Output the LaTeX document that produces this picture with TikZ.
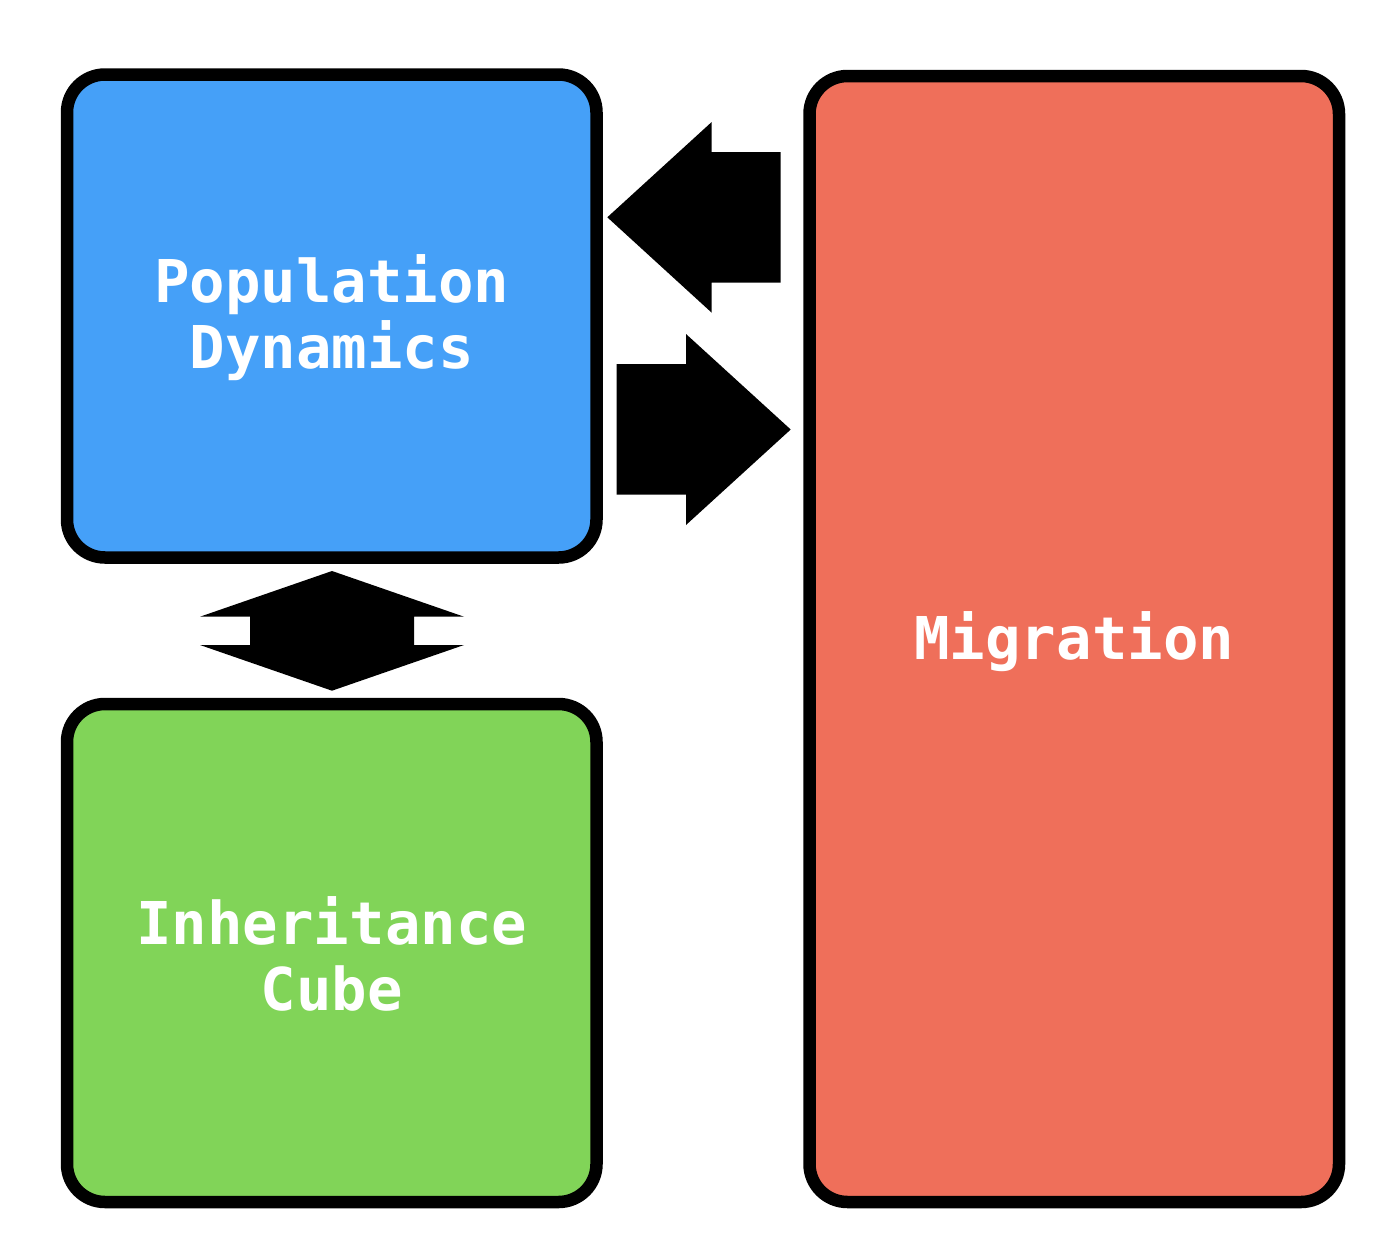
\documentclass[tikz,border=0pt]{standalone}
\usepackage{fontspec}
\newfontfamily\boxfont{DejaVu Sans Mono}
\definecolor{popblue}{HTML}{45A0F8}
\definecolor{migred}{HTML}{EF6F5A}
\definecolor{inhgreen}{HTML}{81D458}
\tikzset{
  panel/.style={draw=black, line width=12.5pt, rounded corners=38pt, inner sep=0pt},
  paneltext/.style={text=white, align=center, inner sep=0pt,
    font=\boxfont\bfseries\fontsize{59}{66}\selectfont},
  blockarrow/.style={fill=black, draw=none}
}
\begin{document}
\begin{tikzpicture}[x=1pt,y=-1pt]
\useasboundingbox (0,0) rectangle (1386,1258);
\node[panel, fill=popblue, minimum width=529.5pt, minimum height=483pt] (pop) at (331.75,316) {};
\node[panel, fill=inhgreen, minimum width=529.5pt, minimum height=498pt] (inh) at (331.75,953) {};
\node[panel, fill=migred, minimum width=529.5pt, minimum height=1126pt] (mig) at (1074.25,639) {};
\node[paneltext] (popt) at ([yshift=-2pt]pop.center) {Population\\Dynamics};
\node[paneltext] (inht) at ([yshift=-1pt]inh.center) {Inheritance\\Cube};
\node[paneltext] (migt) at ([yshift=-3pt]mig.center) {Migration};
% Migration -> Population
\fill[blockarrow] (607.3,217.3) -- (711.7,122) -- (711.7,152) -- (780.7,152) -- (780.7,282.7) -- (711.7,282.7) -- (711.7,312.7) -- cycle;
% Population -> Migration
\fill[blockarrow] (790.7,429.5) -- (686,334) -- (686,364) -- (616.7,364) -- (616.7,494.7) -- (686,494.7) -- (686,525) -- cycle;
% Population <-> Inheritance
\fill[blockarrow] (332,571) -- (464,616.7) -- (414,616.7) -- (414,645) -- (464,645) -- (332,690.7) -- (200,645) -- (250,645) -- (250,616.7) -- (200,616.7) -- cycle;
\end{tikzpicture}
\end{document}
